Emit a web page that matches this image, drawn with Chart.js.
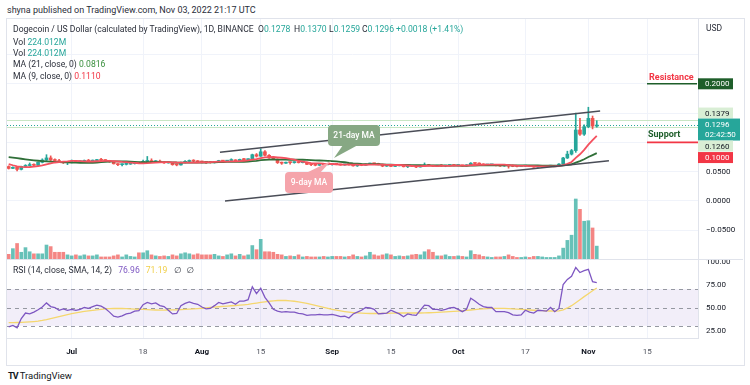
<!DOCTYPE html>
<html>
<head>
<meta charset="utf-8">
<script src="https://cdn.jsdelivr.net/npm/chart.js@4.4.0/dist/chart.umd.min.js"></script>
<style>
  body { margin: 0; width: 750px; height: 385px; background: #fff; position: relative; overflow: hidden;
         font-family: Roboto, "DejaVu Sans", sans-serif; color: #2a2e39; }
  .t { position: absolute; white-space: nowrap; font-size: 8.6px; line-height: 10px; }
  canvas { position: absolute; }
  .teal { color: #26a69a; }
</style>
</head>
<body>
<div class="t" style="left:7px;top:5px;font-size:9px;color:#2a2e39">shyna published on TradingView.com, Nov 03, 2022 21:17 UTC</div>
<div style="position:absolute;left:6px;top:18px;width:737px;height:346px;border:1px solid #e0e3eb"></div>

<canvas id="price" width="736" height="240" style="left:7px;top:19px"></canvas>
<canvas id="rsi" width="736" height="105" style="left:7px;top:259px"></canvas>
<div style="position:absolute;left:7px;top:259px;width:736px;height:1px;background:#e0e3eb"></div>

<div class="t" style="left:13px;top:24px">Dogecoin / US Dollar (calculated by TradingView), 1D, BINANCE</div>
<div class="t" style="left:258px;top:24px">O<span class="teal" id="hO"></span></div>
<div class="t" style="left:294px;top:24px">H<span class="teal" id="hH"></span></div>
<div class="t" style="left:329px;top:24px">L<span class="teal" id="hL"></span></div>
<div class="t" style="left:362px;top:24px">C<span class="teal" id="hC"></span></div>
<div class="t teal" style="left:396px;top:24px" id="hChg"></div>
<div class="t" style="left:13px;top:37px">Vol <span class="teal" id="hV1"></span></div>
<div class="t" style="left:13px;top:48px">Vol <span class="teal" id="hV2"></span></div>
<div class="t" style="left:13px;top:59px">MA (21, close, 0) <span style="color:#388e3c" id="hMa21"></span></div>
<div class="t" style="left:13px;top:71px">MA (9, close, 0) <span style="color:#f23645" id="hMa9"></span></div>
<div class="t" style="left:706px;top:23px;font-size:8.5px">USD</div>
<div class="t" style="left:13px;top:265px">RSI (14, close, SMA, 14, 2) <span style="color:#7e57c2;margin-left:4px" id="hRsi"></span><span style="color:#f0cf4a;margin-left:6px" id="hRsiMa"></span><span style="margin-left:7px">∅</span><span style="margin-left:5px">∅</span></div>
<div class="t" style="left:8px;top:371px;font-size:9.5px;color:#131722"><b style="letter-spacing:-1px;font-size:9px">TV</b> TradingView</div>

<script>
// days counted from Jun 16, 2022 (index 0) to Nov 3, 2022 (index 140)
var opens = [
  .0588,.0556,.0575,.0540,.0590,.0605,.0620,.0610,.0660,.0700, .0735,.0700,.0690,.0665,.0655,.0660,.0680,.0670,.0675,.0690,
  .0680,.0690,.0700,.0695,.0690,.0670,.0635,.0620,.0625,.0630, .0640,.0650,.0640,.0675,.0690,.0670,.0680,.0660,.0650,.0655,
  .0620,.0615,.0660,.0675,.0690,.0680,.0670,.0665,.0660,.0655, .0665,.0690,.0680,.0690,.0700,.0685,.0710,.0705,.0715,.0790,
  .0765,.0840,.0780,.0735,.0715,.0655,.0645,.0660,.0655,.0660, .0655,.0660,.0625,.0620,.0610,.0630,.0620,.0625,.0630,.0625,
  .0615,.0625,.0620,.0600,.0615,.0610,.0630,.0640,.0635,.0625, .0595,.0605,.0590,.0600,.0615,.0585,.0600,.0590,.0580,.0600,
  .0610,.0605,.0595,.0600,.0598,.0605,.0610,.0605,.0610,.0600, .0615,.0645,.0640,.0630,.0615,.0618,.0620,.0605,.0598,.0600,
  .0595,.0590,.0588,.0595,.0600,.0590,.0580,.0585,.0590,.0595, .0600,.0600,.0630,.0734,.0800,.0860,.1212,.1140,.1268,.1410,
  .1278];
var highs = [
  .0600,.0585,.0580,.0595,.0620,.0650,.0635,.0665,.0720,.0790, .0770,.0720,.0710,.0675,.0670,.0700,.0685,.0685,.0700,.0710,
  .0700,.0710,.0730,.0705,.0695,.0675,.0640,.0635,.0640,.0650, .0660,.0665,.0700,.0760,.0720,.0690,.0700,.0670,.0665,.0660,
  .0630,.0665,.0690,.0700,.0705,.0690,.0680,.0675,.0670,.0672, .0695,.0695,.0695,.0720,.0705,.0715,.0730,.0720,.0800,.0810,
  .0890,.0860,.0790,.0750,.0720,.0665,.0665,.0665,.0670,.0670, .0668,.0665,.0630,.0628,.0635,.0640,.0635,.0635,.0640,.0630,
  .0628,.0630,.0635,.0620,.0620,.0635,.0645,.0645,.0645,.0630, .0612,.0610,.0605,.0620,.0618,.0605,.0605,.0610,.0605,.0650,
  .0625,.0610,.0605,.0620,.0610,.0615,.0620,.0615,.0612,.0620, .0655,.0650,.0650,.0635,.0622,.0625,.0622,.0608,.0605,.0605,
  .0615,.0595,.0598,.0605,.0605,.0592,.0595,.0595,.0598,.0610, .0605,.0640,.0745,.0850,.0880,.1500,.1410,.1300,.1600,.1450,
  .1370];
var lows = [
  .0545,.0550,.0515,.0530,.0575,.0600,.0598,.0605,.0650,.0690, .0690,.0670,.0655,.0640,.0620,.0650,.0660,.0660,.0665,.0660,
  .0670,.0680,.0685,.0680,.0660,.0630,.0605,.0600,.0615,.0625, .0630,.0635,.0635,.0665,.0660,.0655,.0655,.0640,.0645,.0610,
  .0600,.0610,.0650,.0665,.0670,.0665,.0650,.0640,.0645,.0648, .0660,.0675,.0672,.0685,.0675,.0670,.0700,.0700,.0710,.0750,
  .0760,.0770,.0725,.0705,.0640,.0625,.0640,.0630,.0645,.0648, .0650,.0620,.0605,.0600,.0605,.0610,.0615,.0610,.0618,.0610,
  .0610,.0612,.0595,.0590,.0602,.0608,.0625,.0625,.0618,.0585, .0590,.0585,.0585,.0598,.0580,.0570,.0585,.0570,.0578,.0595,
  .0600,.0590,.0590,.0590,.0585,.0598,.0600,.0600,.0595,.0595, .0612,.0630,.0625,.0610,.0610,.0612,.0600,.0590,.0592,.0560,
  .0585,.0582,.0585,.0590,.0585,.0575,.0575,.0575,.0585,.0590, .0590,.0598,.0625,.0725,.0785,.0830,.1120,.1120,.1250,.1230,
  .1259];
var closes = [
  .0556,.0575,.0540,.0590,.0605,.0620,.0610,.0660,.0700,.0735, .0700,.0690,.0665,.0655,.0660,.0680,.0670,.0675,.0690,.0680,
  .0690,.0700,.0695,.0690,.0670,.0635,.0620,.0625,.0630,.0640, .0650,.0640,.0675,.0690,.0670,.0680,.0660,.0650,.0655,.0620,
  .0615,.0660,.0675,.0690,.0680,.0670,.0665,.0660,.0655,.0665, .0690,.0680,.0690,.0700,.0685,.0710,.0705,.0715,.0790,.0765,
  .0840,.0780,.0735,.0715,.0655,.0645,.0660,.0655,.0660,.0655, .0660,.0625,.0620,.0610,.0630,.0620,.0625,.0630,.0625,.0615,
  .0625,.0620,.0600,.0615,.0610,.0630,.0640,.0635,.0625,.0595, .0605,.0590,.0600,.0615,.0585,.0600,.0590,.0580,.0600,.0610,
  .0605,.0595,.0600,.0598,.0605,.0610,.0605,.0610,.0600,.0615, .0645,.0640,.0630,.0615,.0618,.0620,.0605,.0598,.0600,.0595,
  .0590,.0588,.0595,.0600,.0590,.0580,.0585,.0590,.0595,.0600, .0600,.0630,.0734,.0800,.0860,.1212,.1140,.1268,.1410,.1278,
  .1296];
// volume in millions
var volumes = [
  81,180,270,117,198,126,90,90,90,243, 216,117,117,117,72,54,72,54,72,54,
  54,72,36,36,36,54,72,36,72,45, 36,108,108,144,72,54,45,54,45,72,
  54,90,108,90,72,90,72,72,72,81, 54,45,72,90,54,81,54,72,234,162,
  342,126,126,117,81,72,45,54,45,72, 36,45,36,36,36,45,36,45,45,45,
  36,45,72,45,36,54,117,72,54,72, 90,72,45,54,45,54,72,81,72,126,
  162,117,54,54,72,45,45,54,45,36, 144,81,72,45,36,27,36,36,45,72,
  45,27,27,36,27,45,45,36,27,27, 27,54,189,324,414,1044,864,657,666,540,
  224.012];
var ma9 = [
  .0630,.0610,.0592,.0582,.0578,.0580,.0585,.0595,.0606,.0626, .0640,.0657,.0665,.0671,.0675,.0683,.0684,.0681,.0676,.0674,
  .0674,.0678,.0682,.0686,.0684,.0681,.0674,.0667,.0662,.0656, .0651,.0644,.0643,.0645,.0649,.0656,.0659,.0662,.0663,.0660,
  .0657,.0656,.0654,.0656,.0656,.0657,.0659,.0659,.0663,.0669, .0672,.0673,.0673,.0675,.0677,.0682,.0687,.0693,.0707,.0716,
  .0733,.0743,.0747,.0751,.0745,.0738,.0732,.0717,.0705,.0685, .0671,.0659,.0648,.0643,.0642,.0637,.0634,.0631,.0627,.0622,
  .0622,.0622,.0621,.0619,.0618,.0619,.0620,.0621,.0622,.0619, .0617,.0616,.0614,.0615,.0610,.0606,.0601,.0596,.0596,.0597,
  .0598,.0598,.0596,.0598,.0598,.0600,.0603,.0604,.0603,.0604, .0610,.0614,.0618,.0619,.0620,.0621,.0621,.0621,.0619,.0613,
  .0608,.0603,.0601,.0599,.0596,.0593,.0591,.0590,.0590,.0591, .0593,.0597,.0612,.0635,.0666,.0736,.0797,.0872,.0962,.1037,
  .1110];
var ma21 = [
  .0750,.0741,.0731,.0721,.0711,.0702,.0694,.0687,.0681,.0676, .0671,.0667,.0664,.0661,.0658,.0656,.0654,.0652,.0651,.0650,
  .0650,.0657,.0662,.0670,.0673,.0675,.0675,.0675,.0674,.0671, .0667,.0664,.0664,.0665,.0665,.0666,.0665,.0665,.0664,.0660,
  .0657,.0656,.0655,.0654,.0654,.0654,.0655,.0657,.0659,.0660, .0663,.0664,.0666,.0668,.0667,.0669,.0670,.0673,.0680,.0685,
  .0696,.0703,.0707,.0709,.0707,.0705,.0705,.0704,.0704,.0704, .0704,.0701,.0698,.0694,.0691,.0688,.0684,.0680,.0676,.0668,
  .0661,.0650,.0642,.0636,.0631,.0630,.0630,.0629,.0627,.0624, .0622,.0619,.0617,.0617,.0616,.0615,.0613,.0611,.0610,.0609,
  .0608,.0607,.0606,.0606,.0605,.0605,.0604,.0603,.0601,.0601, .0603,.0605,.0607,.0607,.0607,.0609,.0609,.0610,.0611,.0610,
  .0609,.0609,.0609,.0609,.0608,.0607,.0606,.0605,.0604,.0604, .0604,.0603,.0608,.0616,.0627,.0656,.0680,.0712,.0751,.0783,
  .0816];
var rsi = [
  29,30.5,28,38,44,43,45,47.5,50.5,55, 51,50,47,48.5,47,48,47,48,50,49,
  51,52.5,51.5,49,45,40.5,39.5,41,43,44, 46,46.5,53,55.5,54,55,52,51,47,43,
  43.5,52,54.5,56,54.5,53.5,50.5,48.5,49,52, 55.5,54,55,56,53.5,57,57,58.5,72.5,65,
  71,61,55,48,46,45,45.5,45,45,43.5, 43,41.5,42,42,42.5,42,42,42.5,41.5,40,
  40.5,38.5,43,45,47,50,49.5,48,43,43.5, 44,47,45,43,40,43,42,41.5,47,52.5,
  52,48,48,47,48,49.5,50,48,45.5,48, 60,57,53.5,51,50,50,45.5,45.5,45.5,44.5,
  42,41.5,42,47,45,44,47,46.5,46,50, 45.5,49,75,80.5,84,93.5,88,90,91.5,78,
  76.96];
var rsiMa = [
  33.5,33.6,33.7,33.8,34.0,34.3,34.7,35.2,35.9,36.8, 37.9,39.0,40.1,41.2,42.3,43.3,44.2,45.0,45.7,46.3,
  46.9,47.5,48.0,48.4,48.7,48.9,49.0,48.9,48.7,48.5, 48.3,48.1,47.9,47.7,47.5,47.3,47.2,47.2,47.3,47.4,
  47.5,47.7,47.9,48.2,48.5,48.8,49.2,49.6,50.0,50.4, 50.8,51.2,51.6,51.9,52.2,52.5,52.9,53.4,54.1,54.8,
  55.5,56.2,56.8,57.3,57.6,57.7,57.6,57.3,56.8,56.1, 55.3,54.4,53.4,52.3,51.2,50.1,49.0,48.0,47.1,46.3,
  45.6,45.0,44.5,44.1,43.8,43.6,43.5,43.5,43.5,43.6, 43.7,43.8,43.9,44.0,44.0,44.0,44.0,44.0,44.0,44.1,
  44.3,44.5,44.7,44.9,45.2,45.5,45.8,46.1,46.4,46.8, 47.3,47.8,48.2,48.5,48.8,49.0,49.1,49.1,49.0,48.8,
  48.5,48.2,47.9,47.6,47.3,47.0,46.8,46.6,46.4,46.2, 46.1,46.3,47.5,49.5,52.0,55.2,58.5,61.8,65.0,68.2,
  71.19];

// time axis ticks (day index) and labels
var tickDays = [15, 32, 46, 60, 77, 91, 107, 123, 138, 152];
var tickLabels = ['Jul', '18', 'Aug', '15', 'Sep', '15', 'Oct', '17', 'Nov', '15'];
var monthTick = [true, false, true, false, true, false, true, false, true, false];

// price scale grid and labels
var priceGrid = [-0.05, 0, 0.05, 0.1, 0.15, 0.2, 0.25];
var priceShown = [-0.05, 0, 0.05];
var rsiTicks = [25, 50, 75, 100];
var rsiGuides = [30, 50, 70];

// drawn trend channel: [day, price]
var upperChannel = [[50.3, 0.0831], [140.8, 0.1536]];
var lowerChannel = [[51.5, 0.0], [142.9, 0.0688]];
var resistance = 0.2, support = 0.1;
var sessionHigh = 0.1379, sessionLow = 0.1260;

var last = closes.length - 1;
var up = '#26a69a', down = '#ef5350';
var fam = 'Roboto, "DejaVu Sans", sans-serif';
Chart.defaults.font.family = fam;

function fmt4(v) { return (v < 0 ? '\u2212' : '') + Math.abs(v).toFixed(4); }

document.getElementById('hO').textContent = opens[last].toFixed(4);
document.getElementById('hH').textContent = highs[last].toFixed(4);
document.getElementById('hL').textContent = lows[last].toFixed(4);
document.getElementById('hC').textContent = closes[last].toFixed(4);
var chg = closes[last] - closes[last - 1];
document.getElementById('hChg').textContent = '+' + chg.toFixed(4) + ' (+' + (chg / closes[last - 1] * 100).toFixed(2) + '%)';
document.getElementById('hV1').textContent = volumes[last].toFixed(3) + 'M';
document.getElementById('hV2').textContent = volumes[last].toFixed(3) + 'M';
document.getElementById('hMa21').textContent = ma21[last].toFixed(4);
document.getElementById('hMa9').textContent = ma9[last].toFixed(4);
document.getElementById('hRsi').textContent = rsi[last].toFixed(2);
document.getElementById('hRsiMa').textContent = rsiMa[last].toFixed(2);

var candleColors = closes.map(function (c, i) { return c >= opens[i] ? up : down; });
var volColors = closes.map(function (c, i) { return c >= opens[i] ? 'rgba(38,166,154,0.7)' : 'rgba(239,83,80,0.7)'; });

function xy(arr) { return arr.map(function (v, i) { return { x: i, y: v }; }); }
function zeroPad(s) { s.paddingTop = 0; s.paddingBottom = 0; s.paddingLeft = 0; s.paddingRight = 0; }

// badges, level lines and notes on the price pane
var priceOverlay = {
  id: 'priceOverlay',
  beforeDatasetsDraw: function (chart) {
    var ctx = chart.ctx, a = chart.chartArea, y = chart.scales.y;
    ctx.save();
    ctx.lineWidth = 1;
    ctx.strokeStyle = '#c8e6c4';
    [sessionHigh, sessionLow].forEach(function (v) {
      var py = Math.round(y.getPixelForValue(v)) + 0.5;
      ctx.beginPath(); ctx.moveTo(a.left, py); ctx.lineTo(a.right, py); ctx.stroke();
    });
    ctx.strokeStyle = up; ctx.setLineDash([1, 2]);
    var pc = Math.round(y.getPixelForValue(closes[last])) + 0.5;
    ctx.beginPath(); ctx.moveTo(a.left, pc); ctx.lineTo(a.right, pc); ctx.stroke();
    ctx.restore();
  },
  afterDraw: function (chart) {
    var ctx = chart.ctx, a = chart.chartArea, y = chart.scales.y;
    ctx.save();
    // resistance / support notes
    var pr = y.getPixelForValue(resistance), ps = y.getPixelForValue(support);
    ctx.lineWidth = 1.6;
    ctx.strokeStyle = '#1e5e2a';
    ctx.beginPath(); ctx.moveTo(a.right - 51, pr); ctx.lineTo(a.right - 1, pr); ctx.stroke();
    ctx.strokeStyle = '#f23645';
    ctx.beginPath(); ctx.moveTo(a.right - 51, ps); ctx.lineTo(a.right, ps); ctx.stroke();
    ctx.font = 'bold 9px ' + fam; ctx.textBaseline = 'middle'; ctx.textAlign = 'left';
    ctx.fillStyle = '#f23645'; ctx.fillText('Resistance', a.right - 49, pr - 6);
    ctx.fillStyle = '#1e5e2a'; ctx.fillText('Support', a.right - 50, ps - 8);

    // MA notes
    function note(x0, y0, x1, y1, tail, fill, text) {
      ctx.fillStyle = fill;
      ctx.beginPath(); ctx.roundRect(x0, y0, x1 - x0, y1 - y0, 4); ctx.fill();
      ctx.beginPath(); ctx.moveTo(tail[0], tail[1]); ctx.lineTo(tail[2], tail[3]); ctx.lineTo(tail[4], tail[5]); ctx.closePath(); ctx.fill();
      ctx.fillStyle = '#fff'; ctx.font = '500 8.5px ' + fam; ctx.textAlign = 'center';
      ctx.fillText(text, (x0 + x1) / 2, (y0 + y1) / 2 + 0.5);
    }
    note(321, 106, 373, 127, [336, 126, 351, 126, 327, 139], '#87a884', '21-day MA');
    note(278, 153, 326, 174, [299, 154, 313, 154, 324, 142], '#f5a4ab', '9-day MA');

    // price scale badges
    var bx = a.right;
    ctx.textAlign = 'left'; ctx.font = '8px ' + fam;
    function badge(cy, h, w, bg, fg, lines) {
      ctx.fillStyle = bg; ctx.fillRect(bx, cy - h / 2, w, h);
      ctx.fillStyle = fg;
      lines.forEach(function (t, k) { ctx.fillText(t, bx + 7, cy - h / 2 + 6 + k * 10); });
    }
    badge(pr, 11, 35, '#1e5e2a', '#fff', [resistance.toFixed(4)]);
    var curTop = y.getPixelForValue(closes[last]) - 6.5;
    var curBot = curTop + 22;
    badge(Math.min(y.getPixelForValue(sessionHigh), curTop - 5.5), 11, 35, '#d9eed5', '#131722', [sessionHigh.toFixed(4)]);
    badge(curTop + 11, 22, 42, up, '#fff', [closes[last].toFixed(4), '02:42:50']);
    var lowC = Math.max(y.getPixelForValue(sessionLow), curBot + 5.5);
    badge(lowC, 11, 35, '#d9eed5', '#131722', [sessionLow.toFixed(4)]);
    badge(Math.max(ps, lowC + 11.5), 11, 35, '#f23645', '#fff', [support.toFixed(4)]);
    ctx.restore();
  }
};

new Chart(document.getElementById('price'), {
  type: 'bar',
  data: {
    datasets: [
      { type: 'line', data: upperChannel.map(function (p) { return { x: p[0], y: p[1] }; }), borderColor: '#4a4d57', borderWidth: 1.6, pointRadius: 0, order: 0 },
      { type: 'line', data: lowerChannel.map(function (p) { return { x: p[0], y: p[1] }; }), borderColor: '#4a4d57', borderWidth: 1.6, pointRadius: 0, order: 0 },
      { type: 'line', data: xy(ma9), borderColor: '#f4515f', borderWidth: 1.8, pointRadius: 0, order: 1 },
      { type: 'line', data: xy(ma21), borderColor: '#2f6f38', borderWidth: 1.8, pointRadius: 0, order: 2 },
      { data: opens.map(function (o, i) { return { x: i, y: [o, closes[i]] }; }), backgroundColor: candleColors,
        barThickness: 3, minBarLength: 1, grouped: false, order: 3 },
      { data: lows.map(function (l, i) { return { x: i, y: [l, highs[i]] }; }), backgroundColor: candleColors,
        barThickness: 1, grouped: false, order: 4 },
      { yAxisID: 'yv', data: xy(volumes), backgroundColor: volColors, barThickness: 3, grouped: false, order: 5 }
    ]
  },
  options: {
    responsive: false, animation: false, devicePixelRatio: 1, events: [],
    layout: { padding: 0, autoPadding: false },
    plugins: { legend: { display: false }, tooltip: { enabled: false } },
    scales: {
      x: {
        type: 'linear', min: -0.4, max: 164.1, offset: false,
        grid: { color: '#f0f3fa', drawTicks: false, offset: false }, border: { display: false },
        ticks: { display: false },
        afterBuildTicks: function (s) { s.ticks = tickDays.map(function (v) { return { value: v }; }); },
        afterFit: function (s) { s.height = 0; zeroPad(s); }
      },
      y: {
        position: 'right', min: -0.09898, max: 0.31058,
        grid: { color: '#f0f3fa', drawTicks: false }, border: { color: '#e0e3eb' },
        ticks: {
          padding: 8, color: '#131722', font: { size: 8 },
          callback: function (v) { return priceShown.indexOf(v) >= 0 ? fmt4(v) : ''; }
        },
        afterBuildTicks: function (s) { s.ticks = priceGrid.map(function (v) { return { value: v }; }); },
        afterFit: function (s) { s.width = 45; zeroPad(s); }
      },
      yv: { display: false, min: 0, max: 4176 }
    }
  },
  plugins: [priceOverlay]
});

// RSI band and guides
var rsiOverlay = {
  id: 'rsiOverlay',
  beforeDatasetsDraw: function (chart) {
    var ctx = chart.ctx, a = chart.chartArea, y = chart.scales.y;
    ctx.save();
    var t = y.getPixelForValue(rsiGuides[2]), b = y.getPixelForValue(rsiGuides[0]);
    ctx.fillStyle = 'rgba(126,87,194,0.1)';
    ctx.fillRect(a.left, t, a.right - a.left, b - t);
    ctx.strokeStyle = '#9598a1'; ctx.lineWidth = 1; ctx.setLineDash([4, 4]);
    rsiGuides.forEach(function (v) {
      var py = Math.round(y.getPixelForValue(v)) + 0.5;
      ctx.beginPath(); ctx.moveTo(a.left, py); ctx.lineTo(a.right, py); ctx.stroke();
    });
    ctx.restore();
  }
};

new Chart(document.getElementById('rsi'), {
  type: 'line',
  data: {
    datasets: [
      { data: xy(rsi), borderColor: '#7e57c2', borderWidth: 1.3, pointRadius: 0, order: 0 },
      { data: xy(rsiMa), borderColor: '#f5d76e', borderWidth: 1.3, pointRadius: 0, order: 1 }
    ]
  },
  options: {
    responsive: false, animation: false, devicePixelRatio: 1, events: [],
    layout: { padding: 0, autoPadding: false },
    plugins: { legend: { display: false }, tooltip: { enabled: false } },
    scales: {
      x: {
        type: 'linear', min: -0.4, max: 164.1,
        grid: { color: '#f0f3fa', drawTicks: false }, border: { color: '#e0e3eb' },
        ticks: {
          padding: 9, autoSkip: false, maxRotation: 0,
          color: function (c) { return monthTick[c.index] ? '#131722' : '#50535e'; },
          font: function (c) { return { size: 8, weight: monthTick[c.index] ? 'bold' : 'normal' }; },
          callback: function (v, i) { return tickLabels[i]; }
        },
        afterBuildTicks: function (s) { s.ticks = tickDays.map(function (v) { return { value: v }; }); },
        afterFit: function (s) { s.height = 26; zeroPad(s); }
      },
      y: {
        position: 'right', min: 16.85, max: 102.72,
        grid: { color: 'rgba(0,0,0,0)', drawTicks: false }, border: { color: '#e0e3eb' },
        ticks: { padding: 8, color: '#131722', font: { size: 8 }, callback: function (v) { return v.toFixed(2); } },
        afterBuildTicks: function (s) { s.ticks = rsiTicks.map(function (v) { return { value: v }; }); },
        afterFit: function (s) { s.width = 45; zeroPad(s); }
      }
    }
  },
  plugins: [rsiOverlay]
});
</script>
</body>
</html>
